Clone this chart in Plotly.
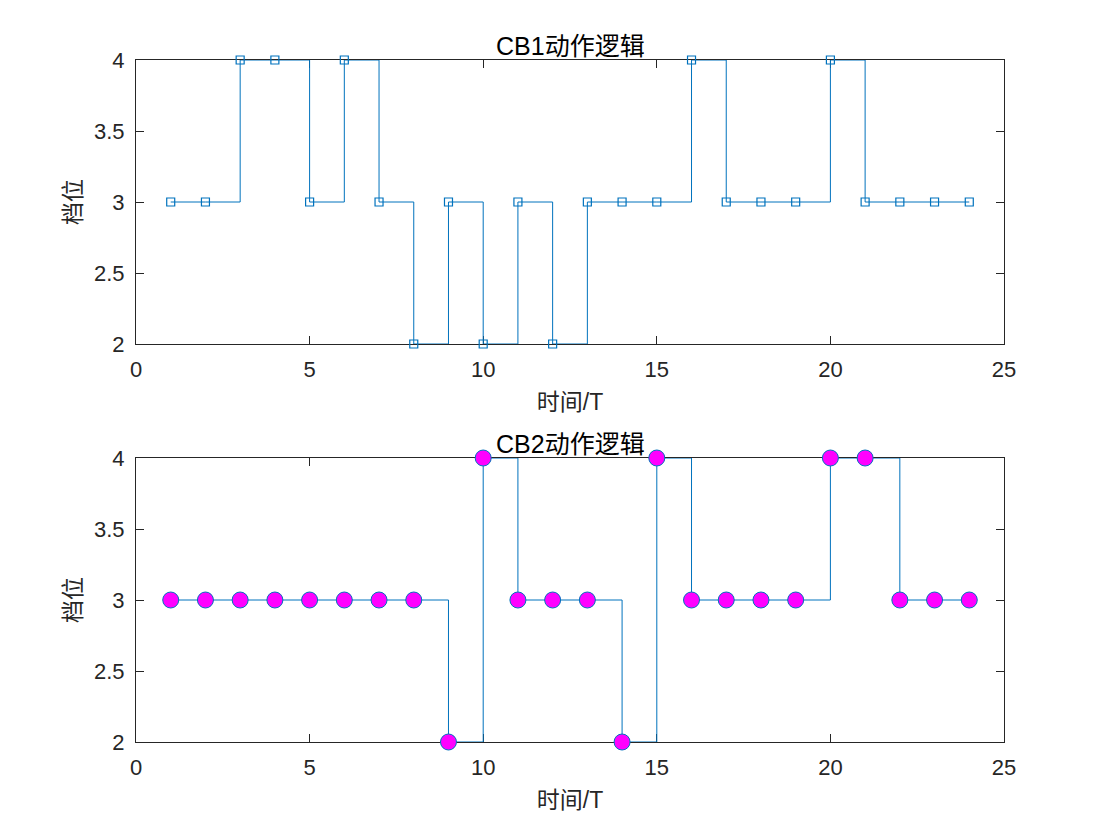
import plotly.graph_objects as go

t = list(range(1, 25))
cb1 = [3, 3, 4, 4, 3, 4, 3, 2, 3, 2, 3, 2, 3, 3, 3, 4, 3, 3, 3, 4, 3, 3, 3, 3]
cb2 = [3, 3, 3, 3, 3, 3, 3, 3, 2, 4, 3, 3, 3, 2, 4, 3, 3, 3, 3, 4, 4, 3, 3, 3]
titles = ["CB1动作逻辑", "CB2动作逻辑"]
xlabel = "时间/T"
ylabel = "档位"
xticks = [0, 5, 10, 15, 20, 25]
yticks = [2, 2.5, 3, 3.5, 4]

W, H = 1089, 815
blue = "#0072BD"
font = "Liberation Sans, Noto Sans CJK SC, sans-serif"
dark = "#262626"

fig = go.Figure()
fig.add_trace(go.Scatter(x=t, y=cb1, mode="lines", line=dict(color=blue, width=1, shape="hv"),
                         xaxis="x", yaxis="y", showlegend=False, hoverinfo="skip", cliponaxis=False))
fig.add_trace(go.Scatter(x=t, y=cb1, mode="markers", cliponaxis=False,
                         marker=dict(symbol="square-open", size=8, color=blue, line=dict(width=1.2, color=blue)),
                         xaxis="x", yaxis="y", showlegend=False))
fig.add_trace(go.Scatter(x=t, y=cb2, mode="lines", line=dict(color=blue, width=1, shape="hv"),
                         xaxis="x2", yaxis="y2", showlegend=False, hoverinfo="skip", cliponaxis=False))
fig.add_trace(go.Scatter(x=t, y=cb2, mode="markers", cliponaxis=False,
                         marker=dict(symbol="circle", size=16, color="#FF00FF", line=dict(width=1, color=blue)),
                         xaxis="x2", yaxis="y2", showlegend=False))

ph = 682.0
yd1 = [1 - 284 / ph, 1]
yd2 = [0, 284 / ph]

axcommon = dict(showline=True, linecolor=dark, linewidth=1, mirror="allticks", automargin=False,
                ticks="inside", ticklen=8, tickcolor=dark, showgrid=False, zeroline=False,
                layer="below traces",
                tickfont=dict(family=font, size=22, color=dark))

xa = dict(axcommon, domain=[0, 1], range=[0, 25], tickvals=xticks, ticklabelstandoff=6,
          title=dict(text=xlabel, font=dict(family=font, size=23, color=dark), standoff=12))
ya = dict(axcommon, range=[2, 4], tickvals=yticks, ticklabelstandoff=6,
          title=dict(text=ylabel, font=dict(family=font, size=23, color=dark), standoff=5))

fig.update_layout(
    width=W, height=H, margin=dict(l=128, r=93, t=52, b=81, autoexpand=False),
    plot_bgcolor="white", paper_bgcolor="white",
    xaxis=dict(xa, anchor="y"),
    yaxis=dict(ya, domain=yd1, anchor="x"),
    xaxis2=dict(xa, anchor="y2"),
    yaxis2=dict(ya, domain=yd2, anchor="x2"),
    annotations=[
        dict(text=titles[0], x=0.5, y=yd1[1], xref="paper", yref="paper",
             xanchor="center", yanchor="bottom", yshift=-2, showarrow=False,
             font=dict(family=font, size=25, color="black")),
        dict(text=titles[1], x=0.5, y=yd2[1], xref="paper", yref="paper",
             xanchor="center", yanchor="bottom", yshift=-2, showarrow=False,
             font=dict(family=font, size=25, color="black")),
    ],
)

fig.write_html("out.html")
